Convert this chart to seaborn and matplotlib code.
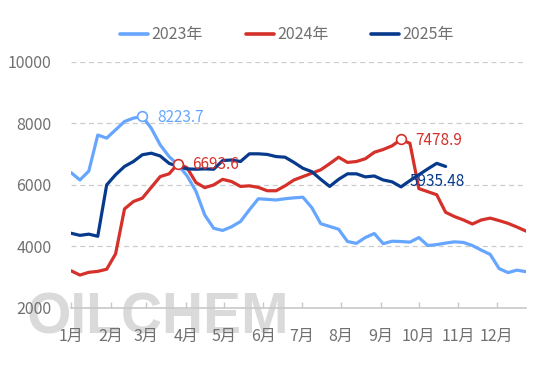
import pandas as pd
import matplotlib.pyplot as plt
import seaborn as sns

# weekly prices, one value per week
price_2023 = [6400, 6160, 6450, 7620, 7520, 7790, 8060, 8170, 8223.7, 7840,
              7300, 6920, 6650, 6300, 5800, 5020, 4590, 4520, 4640, 4810,
              5190, 5550, 5530, 5510, 5550, 5580, 5600, 5260, 4740, 4650,
              4560, 4160, 4100, 4290, 4420, 4090, 4170, 4160, 4140, 4290,
              4030, 4060, 4110, 4150, 4130, 4030, 3880, 3740, 3280, 3150,
              3230, 3180]
price_2024 = [3210, 3070, 3160, 3190, 3260, 3760, 5220, 5460, 5570, 5920,
              6270, 6360, 6693.6, 6560, 6080, 5910, 6000, 6180, 6110, 5950,
              5970, 5920, 5810, 5810, 5970, 6160, 6270, 6380, 6490, 6690,
              6900, 6730, 6760, 6850, 7060, 7150, 7270, 7478.9, 7350, 5880,
              5780, 5680, 5110, 4970, 4860, 4730, 4860, 4920, 4840, 4750,
              4630, 4500]
price_2025 = [4430, 4360, 4400, 4330, 6000, 6330, 6600, 6760, 6980, 7030,
              6940, 6700, 6600, 6520, 6510, 6520, 6510, 6790, 6810, 6760,
              7010, 7010, 6990, 6920, 6900, 6730, 6540, 6430, 6180, 5950,
              6180, 6360, 6360, 6260, 6290, 6160, 6100, 5935.48, 6140, 6330,
              6520, 6700, 6600]

years = ['2023年', '2024年', '2025年']
colors = ['#66a6ff', '#d5302a', '#073a8c']
months = ['1月', '2月', '3月', '4月', '5月', '6月', '7月', '8月', '9月', '10月', '11月', '12月']
month_start_day = [0, 31, 59, 90, 120, 151, 181, 212, 243, 273, 304, 334]

# labelled points: (series, week index)
marks = [('2023年', 8), ('2024年', 12), ('2024年', 37), ('2025年', 37)]

series = dict(zip(years, [price_2023, price_2024, price_2025]))
df = pd.concat([pd.DataFrame({'week': range(len(v)), 'price': v, 'year': y})
                for y, v in series.items()], ignore_index=True)

sns.set_theme(style="white")
plt.rcParams['font.family'] = ['Noto Sans CJK SC', 'DejaVu Sans']

fig = plt.figure(figsize=(5.53, 3.68), dpi=100)
ax = fig.add_axes([71 / 553, 1 - 308 / 368, 454.9 / 553, 246.2 / 368])

# watermark
ax.text(158 / 553, 1 - 318 / 368, 'OILCHEM', transform=fig.transFigure,
        ha='center', va='center', fontsize=41, fontweight='bold',
        family='Liberation Sans', color='#dadada', zorder=0.5, clip_on=False)

sns.lineplot(data=df, x='week', y='price', hue='year', palette=colors,
             linewidth=2.3, legend=False, ax=ax, zorder=3)

color_of = dict(zip(years, colors))
for y, i in marks:
    v = series[y][i]
    c = color_of[y]
    if y == '2025年':
        ax.annotate(f"{v:g}", (i, v), xytext=(6, 4), textcoords='offset points',
                    ha='left', va='center', fontsize=11, color=c, zorder=5)
    else:
        ax.plot(i, v, marker='o', ms=7, mfc='white', mec=c, mew=1.2, zorder=4)
        ax.annotate(f"{v:g}", (i, v), xytext=(10.5, -1), textcoords='offset points',
                    ha='left', va='center', fontsize=11, color=c, zorder=5)

ax.set_xlim(0, 51)
ax.set_ylim(2000, 10000)
ax.set_yticks([2000, 4000, 6000, 8000, 10000])
ax.set_xticks([d / 7 for d in month_start_day])
ax.set_xticklabels(months)
ax.set_xlabel('')
ax.set_ylabel('')

for yv in [4000, 6000, 8000, 10000]:
    ax.axhline(yv, color='#cccccc', lw=0.9, ls=(0, (4, 3)), zorder=1)

for s in ['top', 'right', 'left']:
    ax.spines[s].set_visible(False)
ax.spines['bottom'].set_color('#c8c8c8')
ax.spines['bottom'].set_linewidth(1.2)
ax.tick_params(axis='x', direction='in', length=4, color='#c8c8c8', width=1,
               pad=14, labelsize=11.5, labelcolor='#707070', bottom=True)
ax.tick_params(axis='y', length=0, pad=14, labelsize=11.5, labelcolor='#707070')
ax.patch.set_alpha(0)

handles = [plt.Line2D([], [], color=c, lw=2.6) for c in colors]
fig.legend(handles, years, loc='center', bbox_to_anchor=(287 / 553, 1 - 35 / 368),
           ncol=3, frameon=False, fontsize=11.5, handlelength=1.75,
           handletextpad=0.2, columnspacing=2.7, labelcolor='#707070')

plt.savefig("out.png", dpi=100)
